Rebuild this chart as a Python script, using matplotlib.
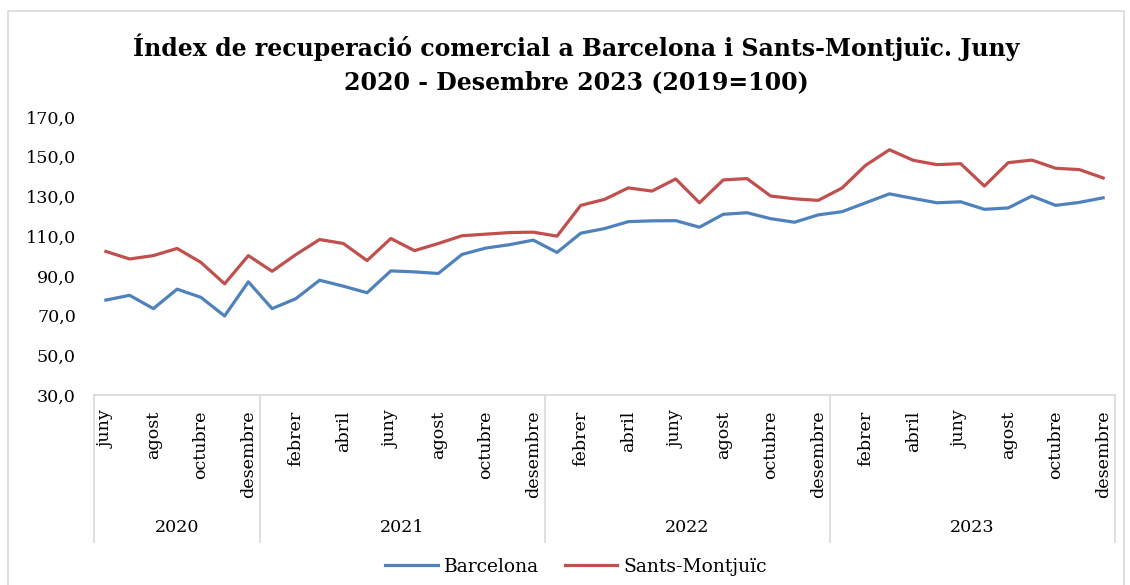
import matplotlib
matplotlib.use("Agg")
import matplotlib.pyplot as plt
import matplotlib.transforms as mtransforms
from matplotlib.patches import Rectangle
import numpy as np

# month names, june 2020 .. december 2023
month_names = ['gener', 'febrer', 'març', 'abril', 'maig', 'juny', 'juliol',
               'agost', 'setembre', 'octubre', 'novembre', 'desembre']
years = ['2020', '2021', '2022', '2023']
months_per_year = [7, 12, 12, 12]

barcelona = [77.8, 80.2, 73.5, 83.3, 79.2, 69.8, 87.0,
             73.5, 78.5, 87.8, 84.8, 81.5, 92.5, 92.0, 91.2, 100.8, 104.0, 105.7, 108.0,
             101.8, 111.5, 113.8, 117.3, 117.7, 117.8, 114.5, 121.0, 121.8, 118.8, 117.0, 120.7,
             122.3, 126.8, 131.3, 129.0, 126.8, 127.3, 123.5, 124.2, 130.2, 125.5, 127.0, 129.3]
sants = [102.3, 98.5, 100.2, 103.8, 96.8, 86.0, 100.2,
         92.3, 100.7, 108.3, 106.3, 97.7, 108.8, 102.7, 106.3, 110.2, 111.0, 111.8, 112.0,
         110.0, 125.5, 128.5, 134.3, 132.7, 138.8, 126.8, 138.3, 139.0, 130.2, 128.8, 128.0,
         134.2, 145.7, 153.5, 148.2, 146.0, 146.5, 135.2, 147.0, 148.3, 144.2, 143.5, 139.3]

labels = []
for y, n in zip(years, months_per_year):
    labels += month_names[12 - n:]

plt.rcParams['font.family'] = 'DejaVu Serif'
W, H = 1130, 585
fig = plt.figure(figsize=(W / 100, H / 100), dpi=100)

# outer chart border
fig.patches.append(Rectangle((8 / W, -0.05), 1116 / W, 1.05 - 11 / H, transform=fig.transFigure,
                             fill=False, edgecolor='#D9D9D9', linewidth=1.2))

ax = fig.add_axes([94 / W, (H - 395) / H, (1115 - 94) / W, (395 - 117) / H])
x = np.arange(len(barcelona))
ax.plot(x, barcelona, color='#4F81BD', lw=2.3, label='Barcelona')
ax.plot(x, sants, color='#C0504D', lw=2.3, label='Sants-Montjuïc')

ax.set_xlim(-0.5, len(x) - 0.5)
ax.set_ylim(30, 170)
ax.set_yticks(np.arange(30, 171, 20))
ax.set_yticklabels([('%.1f' % v).replace('.', ',') for v in np.arange(30, 171, 20)], fontsize=12.6)
ax.tick_params(axis='y', length=0, pad=13)

ax.set_xticks(x[::2])
ax.set_xticklabels(labels[::2], rotation=90, fontsize=12.6, va='top', ha='center')
ax.tick_params(axis='x', length=0, pad=11)

for s in ['left', 'top', 'right']:
    ax.spines[s].set_visible(False)
ax.spines['bottom'].set_color('#D9D9D9')
ax.spines['bottom'].set_linewidth(1.2)

# year separators and year labels
trans = mtransforms.blended_transform_factory(ax.transData, ax.transAxes)
bottom = -(542 - 395) / (395 - 117)
edges = np.concatenate([[0], np.cumsum(months_per_year)]) - 0.5
for e in edges:
    ax.plot([e, e], [0, bottom], color='#D9D9D9', lw=1.2, transform=trans, clip_on=False)
for i, y in enumerate(years):
    ax.text((edges[i] + edges[i + 1]) / 2, -(527 - 395) / (395 - 117), y, transform=trans,
            ha='center', va='center', fontsize=12.6)

fig.text(576 / W, 1 - 64 / H, 'Índex de recuperació comercial a Barcelona i Sants-Montjuïc. Juny\n'
         '2020 - Desembre 2023 (2019=100)', ha='center', va='center',
         fontsize=17, fontweight='bold', linespacing=1.45)

fig.legend(loc='center', bbox_to_anchor=(576 / W, 1 - 567 / H), ncol=2, frameon=False,
           fontsize=13.5, handlelength=2.8, handletextpad=0.3, columnspacing=1.4)

fig.savefig('out.png', dpi=100)
